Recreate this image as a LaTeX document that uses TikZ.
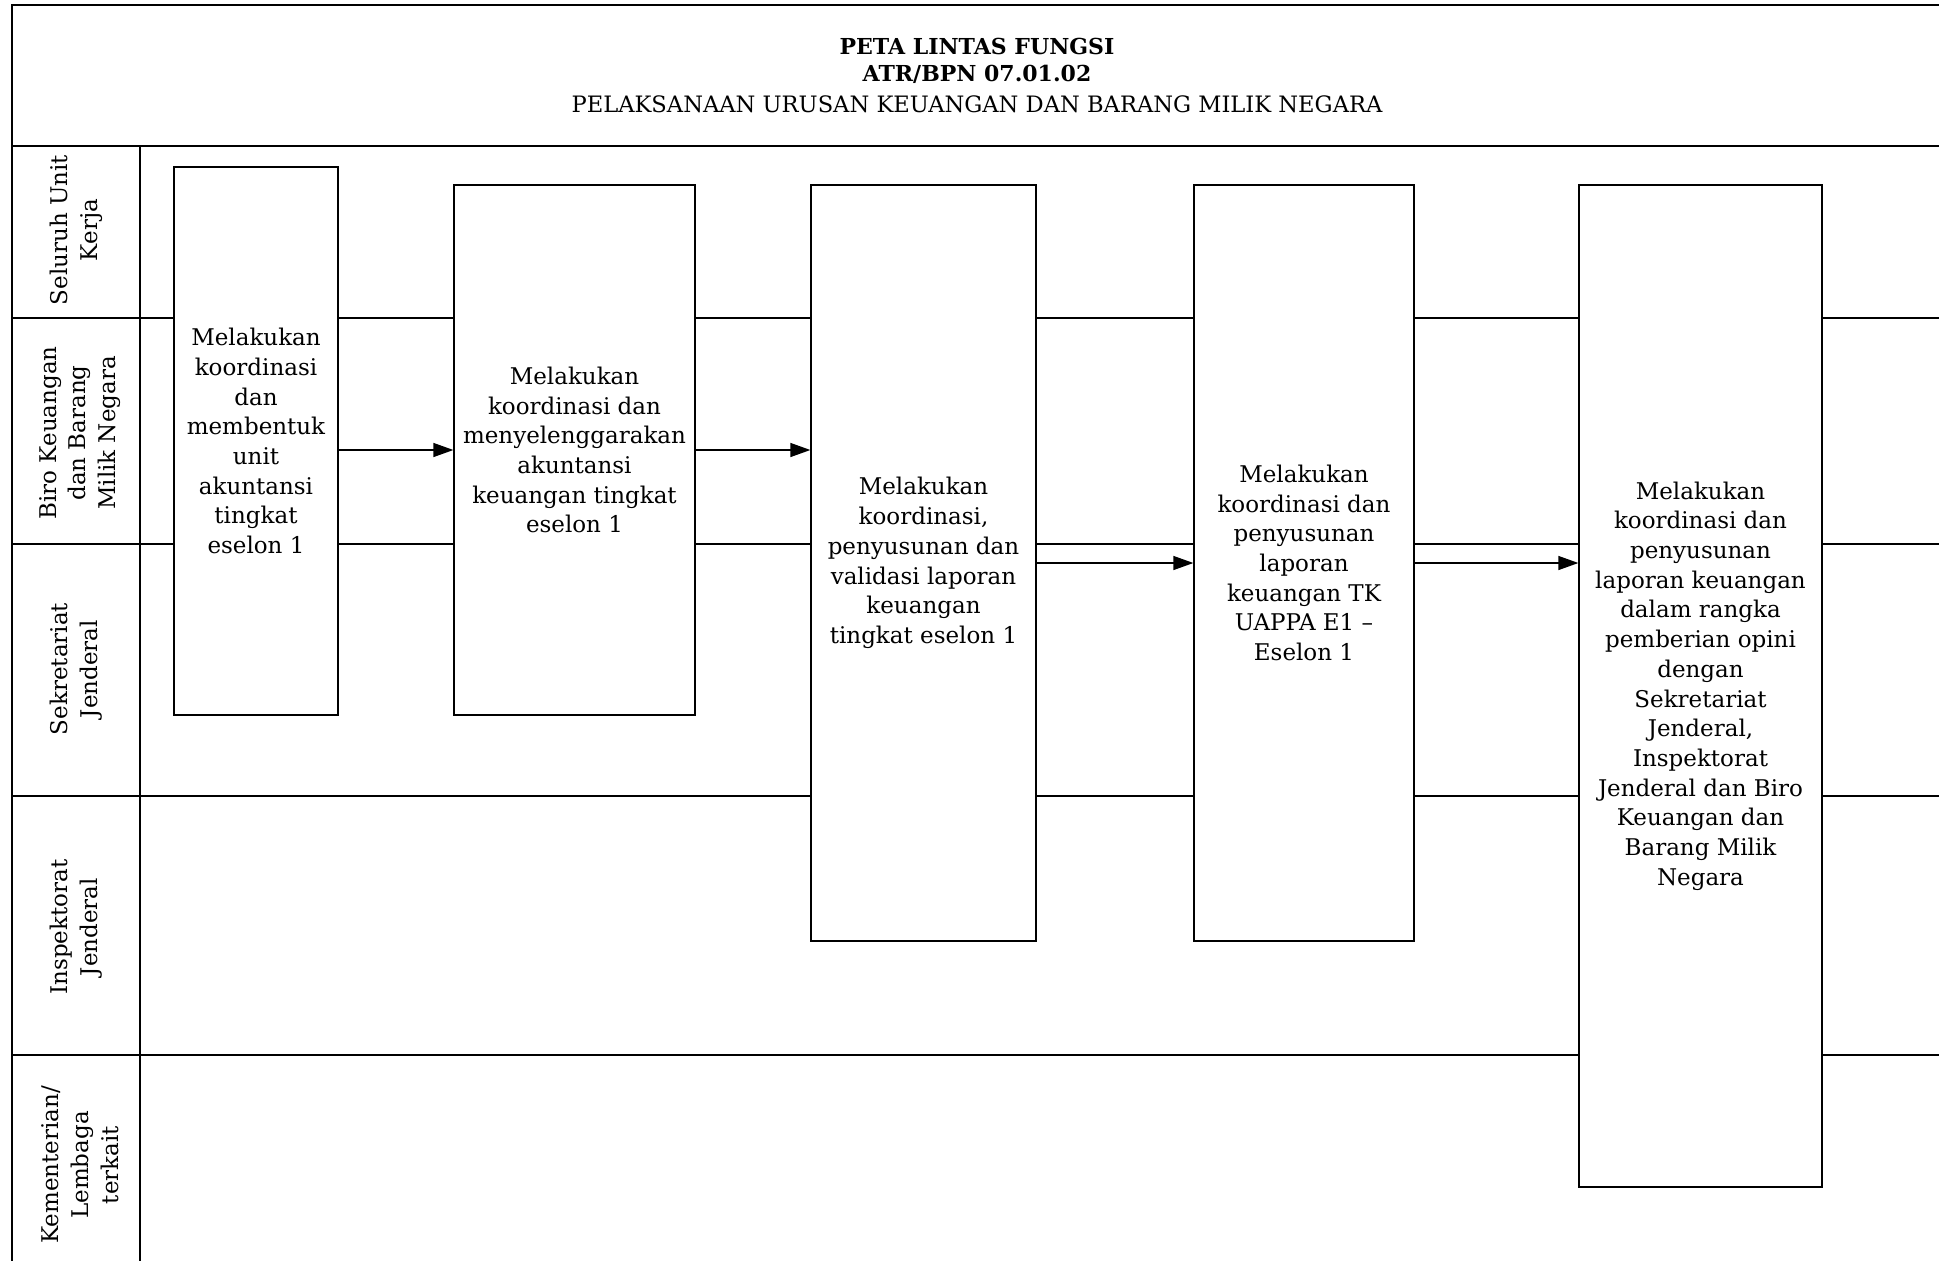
\documentclass[tikz,border=0pt]{standalone}
\usepackage{fontspec}
\setmainfont{DejaVu Serif}
\usetikzlibrary{arrows.meta}
\begin{document}
\begin{tikzpicture}[x=1pt,y=-1pt,line width=1.3pt,
  txt/.style={font=\fontsize{23}{29.7}\selectfont},
  boxst/.style={draw,fill=white,line width=1.3pt,align=center,inner sep=0pt,txt},
  lanelbl/.style={rotate=90,align=center,inner sep=0pt,txt},
  flow/.style={-{Triangle[length=20pt,width=14pt]},line width=1.3pt}]
\useasboundingbox (0,0) rectangle (1939,1261);
% frame
\draw[line width=1.8pt] (12,1261) -- (12,5) -- (1939,5);
\draw (12,146) -- (1939,146);
\draw (140,146) -- (140,1261);
\foreach \yy in {318,544,796,1055} \draw (12,\yy) -- (1939,\yy);
% title
\node[font=\fontsize{22}{29.7}\selectfont\bfseries] (t1) at (977,46) {PETA LINTAS FUNGSI};
\node[font=\fontsize{22}{29.7}\selectfont\bfseries] (t2) at (977,74) {ATR/BPN 07.01.02};
\node[font=\fontsize{22.6}{29.7}\selectfont] (t3) at (977,104) {PELAKSANAAN URUSAN KEUANGAN DAN BARANG MILIK NEGARA};
% lane labels
\node[lanelbl] (l1) at (76,230) {Seluruh Unit\\Kerja};
\node[lanelbl] (l2) at (80,433) {Biro Keuangan\\dan Barang\\Milik Negara};
\node[lanelbl] (l3) at (76,669) {Sekretariat\\Jenderal};
\node[lanelbl] (l4) at (76,927) {Inspektorat\\Jenderal};
\node[lanelbl] (l5) at (80,1165) {Kementerian/\\Lembaga\\terkait};
% boxes
\node[boxst,minimum width=164pt,minimum height=548pt] (b1) at (256,441)
  {Melakukan\\koordinasi\\dan\\membentuk\\unit\\akuntansi\\tingkat\\eselon 1};
\node[boxst,minimum width=241pt,minimum height=530pt] (b2) at (574.5,450)
  {Melakukan\\koordinasi dan\\menyelenggarakan\\akuntansi\\keuangan tingkat\\eselon 1};
\node[boxst,minimum width=225pt,minimum height=756pt] (b3) at (923.5,563)
  {Melakukan\\koordinasi,\\penyusunan dan\\validasi laporan\\keuangan\\tingkat eselon 1};
\node[boxst,minimum width=220pt,minimum height=756pt] (b4) at (1304,563)
  {Melakukan\\koordinasi dan\\penyusunan\\laporan\\keuangan TK\\UAPPA E1 --\\Eselon 1};
\node[boxst,minimum width=243pt,minimum height=1002pt] (b5) at (1700.5,686)
  {Melakukan\\koordinasi dan\\penyusunan\\laporan keuangan\\dalam rangka\\pemberian opini\\dengan\\Sekretariat\\Jenderal,\\Inspektorat\\Jenderal dan Biro\\Keuangan dan\\Barang Milik\\Negara};
% connectors
\draw[flow] (b1.east |- b2.west) -- (b2.west);
\draw[flow] (b2.east) -- (b2.east -| b3.west);
\draw[flow] (b3.east) -- (b4.west);
\draw[flow] (b4.east) -- (b4.east -| b5.west);
\end{tikzpicture}
\end{document}
